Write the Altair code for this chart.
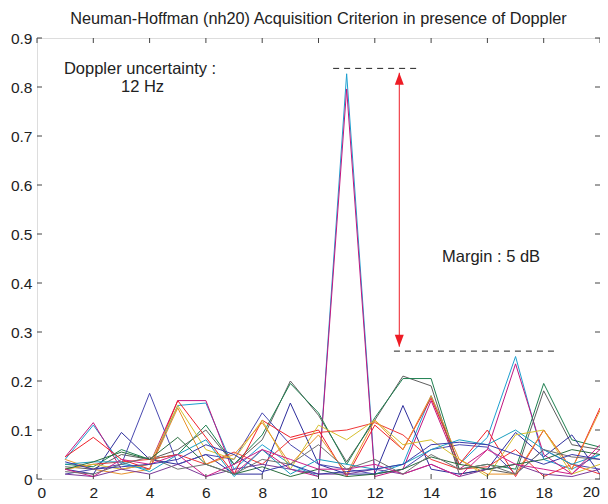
import altair as alt
import pandas as pd

# ---------------- data ----------------
x_vals = list(range(1, 21))
series = {
    "cyan":    [0.04, 0.11, 0.03, 0.02, 0.15, 0.155, 0.02, 0.07, 0.03, 0.005, 0.827, 0.01, 0.03, 0.17, 0.03, 0.085, 0.25, 0.04, 0.02, 0.05],
    "magenta": [0.045, 0.115, 0.02, 0.03, 0.16, 0.16, 0.01, 0.06, 0.02, 0.005, 0.796, 0.005, 0.02, 0.16, 0.02, 0.06, 0.235, 0.05, 0.01, 0.06],
    "grey":    [0.025, 0.02, 0.05, 0.04, 0.06, 0.1, 0.03, 0.08, 0.2, 0.13, 0.035, 0.12, 0.21, 0.19, 0.01, 0.02, 0.01, 0.18, 0.07, 0.06],
    "green":   [0.03, 0.025, 0.06, 0.04, 0.05, 0.11, 0.03, 0.09, 0.195, 0.135, 0.03, 0.125, 0.205, 0.205, 0.02, 0.03, 0.02, 0.195, 0.08, 0.065],
    "navy":    [0.02, 0.01, 0.095, 0.04, 0.03, 0.05, 0.01, 0.01, 0.155, 0.03, 0.01, 0.01, 0.15, 0.02, 0.01, 0.02, 0.095, 0.045, 0.09, 0.01],
    "blue2":   [0.01, 0.02, 0.03, 0.175, 0.03, 0.05, 0.04, 0.135, 0.07, 0.03, 0.02, 0.01, 0.02, 0.06, 0.07, 0.065, 0.01, 0.06, 0.03, 0.02],
    "red":     [0.045, 0.085, 0.04, 0.02, 0.16, 0.085, 0.01, 0.12, 0.085, 0.1, 0.005, 0.11, 0.06, 0.165, 0.03, 0.1, 0.005, 0.1, 0.02, 0.145],
    "red2":    [0.02, 0.03, 0.035, 0.04, 0.05, 0.03, 0.055, 0.03, 0.08, 0.095, 0.1, 0.115, 0.09, 0.04, 0.02, 0.025, 0.06, 0.005, 0.03, 0.01],
    "yellow":  [0.02, 0.03, 0.02, 0.03, 0.15, 0.06, 0.04, 0.12, 0.02, 0.11, 0.08, 0.12, 0.07, 0.08, 0.04, 0.005, 0.09, 0.1, 0.01, 0.03],
    "orange":  [0.04, 0.02, 0.01, 0.02, 0.145, 0.03, 0.05, 0.115, 0.03, 0.09, 0.01, 0.12, 0.06, 0.17, 0.04, 0.01, 0.01, 0.1, 0.02, 0.14],
    "purple":  [0.01, 0.005, 0.02, 0.01, 0.03, 0.005, 0.02, 0.03, 0.02, 0.01, 0.01, 0.02, 0.01, 0.03, 0.005, 0.02, 0.03, 0.01, 0.005, 0.02],
    "teal":    [0.03, 0.035, 0.035, 0.015, 0.05, 0.08, 0.005, 0.06, 0.01, 0.04, 0.03, 0.02, 0.03, 0.06, 0.08, 0.07, 0.1, 0.06, 0.03, 0.05],
    "green2":  [0.02, 0.035, 0.055, 0.04, 0.085, 0.03, 0.01, 0.025, 0.005, 0.02, 0.005, 0.01, 0.02, 0.045, 0.03, 0.02, 0.03, 0.04, 0.06, 0.05],
    "pink":    [0.02, 0.005, 0.04, 0.03, 0.05, 0.005, 0.03, 0.06, 0.04, 0.02, 0.02, 0.03, 0.01, 0.03, 0.005, 0.06, 0.03, 0.02, 0.01, 0.07],
    "grey2":   [0.015, 0.01, 0.03, 0.045, 0.02, 0.03, 0.01, 0.04, 0.03, 0.07, 0.02, 0.04, 0.01, 0.05, 0.02, 0.03, 0.01, 0.06, 0.045, 0.04],
    "blue3":   [0.035, 0.02, 0.025, 0.03, 0.04, 0.07, 0.05, 0.015, 0.03, 0.01, 0.015, 0.02, 0.03, 0.07, 0.075, 0.07, 0.05, 0.03, 0.05, 0.04],
}
series_colors = {
    "cyan": "#1d9fd0", "magenta": "#c2167f", "grey": "#5e5e5e", "green": "#1e8050",
    "navy": "#2d2d9c", "blue2": "#4848b0", "red": "#f0202a", "red2": "#f03838",
    "yellow": "#d6bf2e", "orange": "#e8922a", "purple": "#7a3a98", "teal": "#1a9fc0",
    "green2": "#2a6e3e", "pink": "#d0208a", "grey2": "#707070", "blue3": "#3a3aa8",
}
x_ticks = list(range(0, 21, 2))
y_ticks = [0, 0.1, 0.2, 0.3, 0.4, 0.5, 0.6, 0.7, 0.8, 0.9]
last_x_label = 20

# annotation values
top_dash_x = [10.52, 13.53]
top_dash_y = 0.838
bot_dash_x = [12.68, 18.37]
bot_dash_y = 0.261
arrow_x = 12.87
arrow_top = 0.829
arrow_bot = 0.27
texts = pd.DataFrame({
    "x": [3.66, 3.75, 16.13],
    "y": [0.837, 0.799, 0.454],
    "t": ["Doppler uncertainty :", "12 Hz", "Margin : 5 dB"],
})

title = "Neuman-Hoffman (nh20) Acquisition Criterion in presence of Doppler"

# ---------------- build ----------------
rows = []
for name, vals in series.items():
    for xv, yv in zip(x_vals, vals):
        rows.append({"s": name, "x": xv, "y": yv})
df = pd.DataFrame(rows)

W, H = 563, 441
FONT = "Liberation Sans"
LBL = 15.5
xs = alt.Scale(domain=[0, 20], nice=False)
ys = alt.Scale(domain=[0, 0.9], nice=False)

lines = alt.Chart(df).mark_line(strokeWidth=1).encode(
    x=alt.X("x:Q", scale=xs, axis=alt.Axis(
        values=x_ticks, title=None, ticks=False, domain=False, grid=False,
        labelFontSize=LBL, labelFont=FONT, labelColor="#222", labelPadding=6,
        labelExpr=f"datum.value == {last_x_label} ? '' : datum.label")),
    y=alt.Y("y:Q", scale=ys, axis=alt.Axis(values=y_ticks, title=None, ticks=False, domain=False,
                                           grid=False, labelFontSize=LBL, labelFont=FONT,
                                           labelColor="#222", labelPadding=5,
                                           labelExpr="datum.value == 0 ? '0' : format(datum.value, '.1f')")),
    color=alt.Color("s:N", scale=alt.Scale(domain=list(series_colors.keys()),
                                           range=list(series_colors.values())), legend=None),
    detail="s:N",
)

# last x tick label, right-aligned so it stays inside the page
last_lbl = alt.Chart(pd.DataFrame({"x": [last_x_label], "t": [str(last_x_label)]})).mark_text(
    font=FONT, fontSize=LBL, color="#222", align="right", baseline="top").encode(
    x=alt.X("x:Q", scale=xs), y=alt.value(H + 6), text="t:N")

xt = pd.DataFrame({"x": x_ticks})
yt = pd.DataFrame({"y": y_ticks})
tick_col = "#444"
xb = alt.Chart(xt).mark_rule(color=tick_col).encode(x=alt.X("x:Q", scale=xs), y=alt.value(H), y2=alt.value(H - 5))
xtop = alt.Chart(xt).mark_rule(color=tick_col).encode(x=alt.X("x:Q", scale=xs), y=alt.value(0), y2=alt.value(5))
yl = alt.Chart(yt).mark_rule(color=tick_col).encode(y=alt.Y("y:Q", scale=ys), x=alt.value(0), x2=alt.value(5))
yr = alt.Chart(yt).mark_rule(color=tick_col).encode(y=alt.Y("y:Q", scale=ys), x=alt.value(W - 5), x2=alt.value(W))

dash_df = pd.DataFrame({
    "x": [top_dash_x[0], bot_dash_x[0]],
    "x2": [top_dash_x[1], bot_dash_x[1]],
    "y": [top_dash_y, bot_dash_y],
})
dashes = alt.Chart(dash_df).mark_rule(color="#222", strokeDash=[6, 5], strokeWidth=1).encode(
    x=alt.X("x:Q", scale=xs), x2="x2:Q", y=alt.Y("y:Q", scale=ys))

arrow_df = pd.DataFrame({"x": [arrow_x], "y": [arrow_top], "y2": [arrow_bot]})
arrow_line = alt.Chart(arrow_df).mark_rule(color="#ee1c25", strokeWidth=1).encode(
    x=alt.X("x:Q", scale=xs), y=alt.Y("y:Q", scale=ys), y2="y2:Q")

head_up = alt.Chart(pd.DataFrame({"x": [arrow_x], "y": [arrow_top]})).mark_point(
    shape="M0,0L0.75,2L-0.75,2Z", filled=True, color="#ee1c25", opacity=1, size=144).encode(
    x=alt.X("x:Q", scale=xs), y=alt.Y("y:Q", scale=ys))
head_dn = alt.Chart(pd.DataFrame({"x": [arrow_x], "y": [arrow_bot]})).mark_point(
    shape="M0,0L0.75,-2L-0.75,-2Z", filled=True, color="#ee1c25", opacity=1, size=144).encode(
    x=alt.X("x:Q", scale=xs), y=alt.Y("y:Q", scale=ys))

labels = alt.Chart(texts).mark_text(font=FONT, fontSize=16.5, color="#222", align="center",
                                    baseline="middle").encode(
    x=alt.X("x:Q", scale=xs), y=alt.Y("y:Q", scale=ys), text="t:N")

chart = alt.layer(lines, xb, xtop, yl, yr, dashes, arrow_line, head_up, head_dn, labels, last_lbl).properties(
    width=W, height=H,
    title=alt.Title(title, font=FONT, fontSize=16.3, fontWeight="normal", color="#222", offset=4),
    autosize=alt.AutoSizeParams(type="none"),
    padding={"left": 29, "top": 30, "right": 0, "bottom": 22},
).configure_view(stroke="#444", strokeWidth=1.5, clip=False).configure(background="white")

chart.save("out.html", embed_options={"renderer": "svg", "actions": False})
